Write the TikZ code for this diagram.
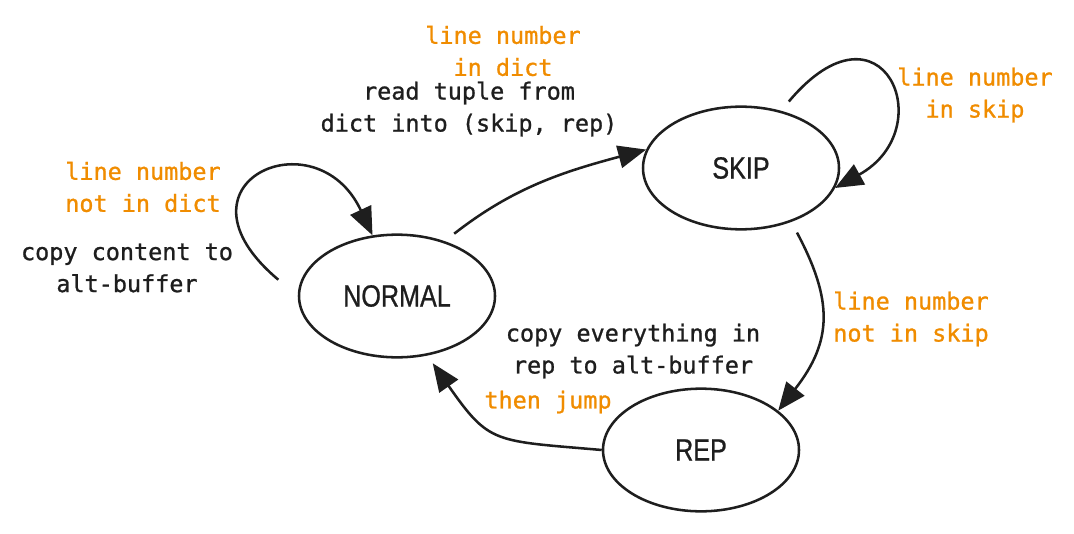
\documentclass[tikz,border=0pt]{standalone}
\usepackage{fontspec}
\setmonofont[FakeBold=1]{DejaVu Sans Mono}
\newfontfamily\statefont[FakeStretch=0.82,FakeBold=0.8]{Liberation Sans}
\usetikzlibrary{arrows.meta,shapes.geometric}
\definecolor{ink}{HTML}{1E1E1E}
\definecolor{note}{HTML}{F08C00}

\begin{document}
\begin{tikzpicture}[x=0.75pt,y=0.75pt,line width=1.9pt,color=ink,
  >={Triangle[length=21pt,width=17pt]},
  state/.style={ellipse,draw=ink,minimum width=147pt,minimum height=92pt,
    inner sep=0pt,font=\statefont\fontsize{23}{26}\selectfont},
  lbl/.style={align=center,text=ink,font=\ttfamily\fontsize{17.6}{24}\selectfont},
  cond/.style={lbl,text=note}]
  \useasboundingbox (0,0) rectangle (1074,533);

  % states
  \node[state] (normal) at (397,237) {NORMAL};
  \node[state] (skip) at (741,365) {SKIP};
  \node[state] (rep) at (701,83) {REP};

  % labels
  \node[cond] (indict) at (503,482) {line number\\in dict};
  \node[lbl] (readtuple) at (469,424) {read tuple from\\dict into (skip, rep)};
  \node[cond] (notindict) at (143,346) {line number\\not in dict};
  \node[lbl] (copycontent) at (127,265) {copy content to\\alt-buffer};
  \node[cond] (inskip) at (975,438) {line number\\in skip};
  \node[cond] (notinskip) at (911,214) {line number\\not in skip};
  \node[lbl] (copyrep) at (633,182) {copy everything in\\rep to alt-buffer};
  \node[cond] (thenjump) at (548,131) {then jump};

  \path[->]
  (normal.180)
  edge [out=140, in=115, out distance=132pt, in distance=100pt, shorten <=19pt] (normal.112)
  (normal.49)
  edge [out=38, in=195, shorten <=9pt] (skip.169)
  (skip.55)
  edge [out=50, in=29, out distance=118pt, in distance=92pt, shorten <=9pt] (skip.-12)
  (skip.-47)
  edge [out=-62, in=52, looseness=1.2, shorten <=9pt] (rep.27)
  (rep.180)
  edge [out=175, in=-55, looseness=1.4, shorten >=7pt] (normal.-63)
  ;
\end{tikzpicture}
\end{document}
